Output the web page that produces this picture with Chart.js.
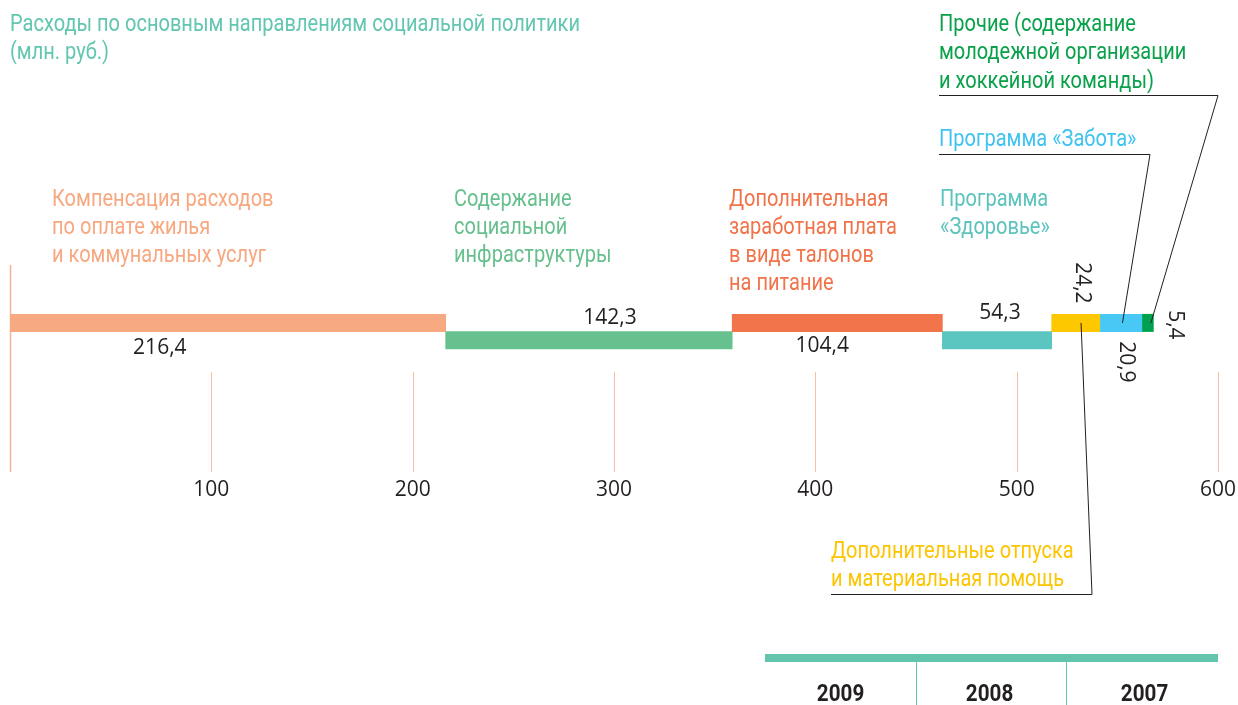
<!DOCTYPE html>
<html>
<head>
<meta charset="utf-8">
<script src="https://cdn.jsdelivr.net/npm/chart.js@4.4.1/dist/chart.umd.min.js"></script>
<style>
html,body{margin:0;padding:0;background:#fff;}
#wrap{position:relative;width:1238px;height:705px;overflow:hidden;background:#fff;}
#c{position:absolute;left:0;top:0;width:1238px;height:705px;}
.t{position:absolute;font-family:'Roboto',sans-serif;font-size:23px;line-height:28.3px;white-space:nowrap;transform-origin:0 0;}
.yr{position:absolute;top:679px;font-family:'Roboto',sans-serif;font-weight:bold;font-size:24px;color:#231f20;white-space:nowrap;transform-origin:50% 0;}
.tabline{position:absolute;left:765px;top:654px;width:453px;height:8px;background:#63c5ae;}
.div{position:absolute;top:662px;width:1px;height:43px;background:#63c5ae;}
</style>
</head>
<body>
<div id="wrap">
<canvas id="c" width="1238" height="705"></canvas>
<div class="t" id="title" style="left:10px;top:10px;color:#62c6b0"><span id="tl1">Расходы по основным направлениям социальной политики</span><br>(млн. руб.)</div>
<div class="t" id="l0" style="left:52px;top:184.5px;color:#f7a880"></div>
<div class="t" id="l1" style="left:454px;top:184.5px;color:#66c08d"></div>
<div class="t" id="l2" style="left:729px;top:184.5px;color:#f17349"></div>
<div class="t" id="l3" style="left:940px;top:184.5px;color:#5cc3bd"></div>
<div class="t" id="l4" style="left:831px;top:537px;color:#fcc500"></div>
<div class="t" id="l5" style="left:939px;top:125px;color:#3fc3f0"></div>
<div class="t" id="l6" style="left:939px;top:10px;color:#0aa14b"></div>
<div class="tabline"></div>
<div class="div" style="left:916px"></div>
<div class="div" style="left:1066px"></div>
<div class="yr" id="y0" data-cx="841"></div>
<div class="yr" id="y1" data-cx="990"></div>
<div class="yr" id="y2" data-cx="1145"></div>
</div>
<script>
// ---- data ----
const categoryLines = [
  ['Компенсация расходов','по оплате жилья','и коммунальных услуг'],
  ['Содержание','социальной','инфраструктуры'],
  ['Дополнительная','заработная плата','в виде талонов','на питание'],
  ['Программа','«Здоровье»'],
  ['Дополнительные отпуска','и материальная помощь'],
  ['Программа «Забота»'],
  ['Прочие (содержание','молодежной организации','и хоккейной команды)']
];
const values = [216.4, 142.3, 104.4, 54.3, 24.2, 20.9, 5.4];
const valueLabels = ['216,4', '142,3', '104,4', '54,3', '24,2', '20,9', '5,4'];
const tracks = [1, 0, 1, 0, 1, 1, 1]; // 1 = upper track, 0 = lower track
const tickValues = [0, 100, 200, 300, 400, 500, 600];
const years = ['2009', '2008', '2007'];

// ---- styles ----
const barColors = ['#f7a981', '#67c18e', '#f2744b', '#5bc5bf', '#fec800', '#47c8f5', '#00a14e'];
const labelStyle = [
  {dx:-68, dy:25, rot:false},
  {dx:21, dy:-22, rot:false},
  {dx:-15, dy:23, rot:false},
  {dx:3, dy:-27, rot:false},
  {dx:6, dy:-40, rot:true},
  {dx:5, dy:39, rot:true},
  {dx:27, dy:2, rot:true}
];
const Y_MIN = -7.594, Y_MAX = 4.337;

categoryLines.forEach((ls, i) => { document.getElementById('l' + i).innerHTML = ls.join('<br>'); });
years.forEach((y, i) => { document.getElementById('y' + i).textContent = y; });

// condense the label font to match the narrow typeface of the original
const titleW = document.getElementById('tl1').getBoundingClientRect().width;
const squeeze = 570 / titleW;
document.querySelectorAll('.t').forEach(el => { el.style.transform = 'scaleX(' + squeeze + ')'; });
document.querySelectorAll('.yr').forEach(el => {
  const w = el.getBoundingClientRect().width;
  el.style.left = (parseFloat(el.dataset.cx) - w / 2) + 'px';
  el.style.transform = 'scaleX(0.86)';
});

let acc = 0;
const barData = values.map((v, i) => { const s = acc; acc += v; return {x: [s, +(s + v).toFixed(1)], y: tracks[i]}; });

const decor = {
  id: 'decor',
  beforeDatasetsDraw(chart) {
    const ctx = chart.ctx, xs = chart.scales.x, a = chart.chartArea;
    ctx.save();
    xs.ticks.forEach(t => {
      const x = Math.round(xs.getPixelForValue(t.value)) + 0.5;
      ctx.beginPath();
      if (t.value === 0) {
        ctx.strokeStyle = '#f7b393'; ctx.lineWidth = 1.5;
        ctx.moveTo(x, a.top); ctx.lineTo(x, a.bottom);
      } else {
        ctx.strokeStyle = '#f9c0a5'; ctx.lineWidth = 1;
        ctx.moveTo(x, a.bottom - 100); ctx.lineTo(x, a.bottom);
      }
      ctx.stroke();
    });
    ctx.restore();
  },
  afterDatasetsDraw(chart) {
    const ctx = chart.ctx, meta = chart.getDatasetMeta(0), xs = chart.scales.x;
    ctx.save();
    ctx.fillStyle = '#231f20';
    ctx.font = '21px "Open Sans"';
    ctx.textAlign = 'center'; ctx.textBaseline = 'middle';
    meta.data.forEach((el, i) => {
      const cx = (el.x + el.base) / 2 + labelStyle[i].dx, cy = el.y + labelStyle[i].dy;
      ctx.save();
      ctx.translate(cx, cy);
      if (labelStyle[i].rot) ctx.rotate(Math.PI / 2);
      ctx.fillText(valueLabels[i], 0, 0);
      ctx.restore();
    });
    ctx.strokeStyle = '#231f20'; ctx.lineWidth = 1;
    const c = i => [(meta.data[i].x + meta.data[i].base) / 2, meta.data[i].y];
    const right = xs.getPixelForValue(600);
    let p = c(6);
    ctx.beginPath(); ctx.moveTo(939, 95.5); ctx.lineTo(right, 95.5); ctx.lineTo(p[0] + 3, p[1]); ctx.stroke();
    p = c(5);
    ctx.beginPath(); ctx.moveTo(939, 154.5); ctx.lineTo(1150, 154.5); ctx.lineTo(p[0] + 1, p[1]); ctx.stroke();
    p = c(4);
    ctx.beginPath(); ctx.moveTo(p[0] + 5, p[1]); ctx.lineTo(1092, 594.5); ctx.lineTo(831, 594.5); ctx.stroke();
    ctx.restore();
  }
};

new Chart(document.getElementById('c'), {
  type: 'bar',
  data: {
    datasets: [{
      data: barData,
      backgroundColor: barColors,
      borderWidth: 0,
      barThickness: 17.35
    }]
  },
  options: {
    indexAxis: 'y',
    responsive: false,
    animation: false,
    events: [],
    plugins: {legend: {display: false}, tooltip: {enabled: false}},
    layout: {padding: {left: 10, right: 20, top: 265, bottom: 193}},
    scales: {
      x: {
        type: 'linear', min: 0, max: 600,
        afterBuildTicks: s => { s.ticks = tickValues.map(v => ({value: v})); },
        afterFit: s => { s.height = 40; s.paddingLeft = 0; s.paddingRight = 0; },
        ticks: {
          callback: v => v === 0 ? '' : String(v),
          font: {family: 'Open Sans', size: 21},
          color: '#231f20', padding: 5, maxRotation: 0, autoSkip: false
        },
        grid: {display: false, drawTicks: false},
        border: {display: false}
      },
      y: {type: 'linear', min: Y_MIN, max: Y_MAX, offset: false, display: false,
          afterBuildTicks: s => { s.min = Y_MIN; s.max = Y_MAX; s.ticks = [{value: Y_MIN}, {value: Y_MAX}]; }}
    }
  },
  plugins: [decor]
});
</script>
</body>
</html>
